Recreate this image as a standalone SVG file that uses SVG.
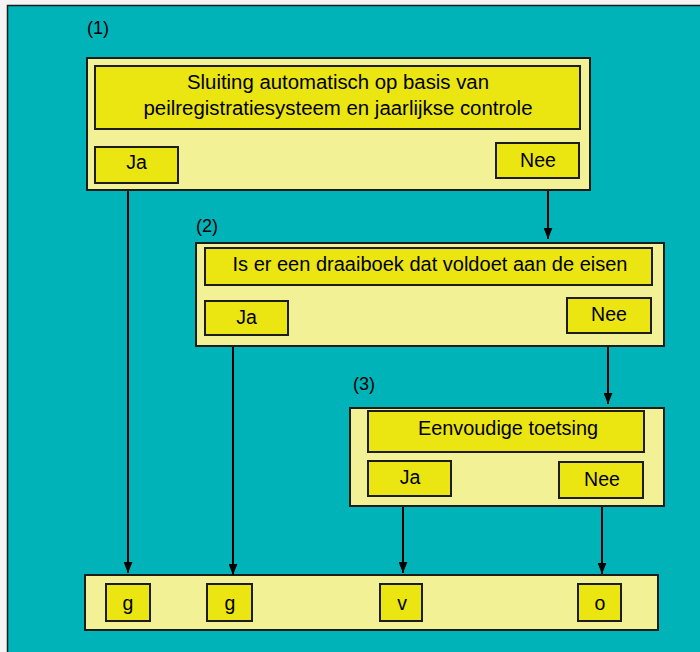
<svg xmlns="http://www.w3.org/2000/svg" width="700" height="652" viewBox="0 0 700 652">
  <defs>
    <marker id="arrow" viewBox="0 0 10 8" refX="10" refY="4" markerWidth="11" markerHeight="9" markerUnits="userSpaceOnUse" orient="auto">
      <path d="M0,0 L10,4 L0,8 z" fill="#000"/>
    </marker>
    <style>
      .panel { fill: #f2f195; stroke: #1c1c1c; stroke-width: 2; }
      .cell  { fill: #ebe612; stroke: #1c1c1c; stroke-width: 2; }
      .lbl   { font-family: "Liberation Sans", Arial, sans-serif; font-size: 19.5px; fill: #000; text-anchor: middle; }
      .num   { font-family: "Liberation Sans", Arial, sans-serif; font-size: 18px; fill: #000; }
      .link  { stroke: #000; stroke-width: 2; fill: none; marker-end: url(#arrow); }
    </style>
  </defs>

  <!-- page background and frame -->
  <rect x="0" y="0" width="700" height="652" fill="#f4f4f4"/>
  <rect x="7.5" y="5.5" width="700" height="660" fill="#00b3b8" stroke="#1c1c1c" stroke-width="1.5"/>

  <!-- step 1 -->
  <g id="step1">
    <text class="num" x="87" y="34">(1)</text>
    <rect class="panel" x="87" y="58" width="503" height="132"/>
    <rect class="cell" x="95" y="66" width="485" height="63"/>
    <text class="lbl" x="338" y="89" textLength="302" lengthAdjust="spacingAndGlyphs">Sluiting automatisch op basis van</text>
    <text class="lbl" x="338" y="115" textLength="389" lengthAdjust="spacingAndGlyphs">peilregistratiesysteem en jaarlijkse controle</text>
    <rect class="cell" x="95" y="147" width="83" height="36"/>
    <text class="lbl" x="136.5" y="169">Ja</text>
    <rect class="cell" x="496" y="143" width="83" height="35"/>
    <text class="lbl" x="538" y="167">Nee</text>
  </g>

  <!-- step 2 -->
  <g id="step2">
    <text class="num" x="196" y="232">(2)</text>
    <rect class="panel" x="196" y="243" width="468" height="103"/>
    <rect class="cell" x="205" y="248" width="447" height="37"/>
    <text class="lbl" x="430" y="271" textLength="395" lengthAdjust="spacingAndGlyphs">Is er een draaiboek dat voldoet aan de eisen</text>
    <rect class="cell" x="205" y="301" width="83" height="34"/>
    <text class="lbl" x="246.5" y="324">Ja</text>
    <rect class="cell" x="567" y="298" width="84" height="35"/>
    <text class="lbl" x="609" y="321">Nee</text>
  </g>

  <!-- step 3 -->
  <g id="step3">
    <text class="num" x="353" y="390">(3)</text>
    <rect class="panel" x="350" y="408" width="314" height="98"/>
    <rect class="cell" x="368" y="411" width="276" height="41"/>
    <text class="lbl" x="508" y="435" textLength="180" lengthAdjust="spacingAndGlyphs">Eenvoudige toetsing</text>
    <rect class="cell" x="368" y="461" width="83" height="35"/>
    <text class="lbl" x="410" y="484">Ja</text>
    <rect class="cell" x="559" y="462" width="84" height="36"/>
    <text class="lbl" x="602" y="486">Nee</text>
  </g>

  <!-- outcomes -->
  <g id="outcomes">
    <rect class="panel" x="85" y="575" width="573" height="55"/>
    <rect class="cell" x="106" y="584" width="44" height="37"/>
    <text class="lbl" x="128" y="610">g</text>
    <rect class="cell" x="207" y="584" width="45" height="37"/>
    <text class="lbl" x="230" y="610">g</text>
    <rect class="cell" x="380" y="584" width="42" height="37"/>
    <text class="lbl" x="402" y="610">v</text>
    <rect class="cell" x="578" y="584" width="43" height="37"/>
    <text class="lbl" x="600" y="610">o</text>
  </g>

  <!-- connectors -->
  <g id="connectors">
    <line class="link" x1="128" y1="191" x2="128" y2="573"/>
    <line class="link" x1="548" y1="191" x2="548" y2="239"/>
    <line class="link" x1="233" y1="347" x2="233" y2="575"/>
    <line class="link" x1="608" y1="347" x2="608" y2="404"/>
    <line class="link" x1="403" y1="507" x2="403" y2="573"/>
    <line class="link" x1="602" y1="507" x2="602" y2="574"/>
  </g>
</svg>
